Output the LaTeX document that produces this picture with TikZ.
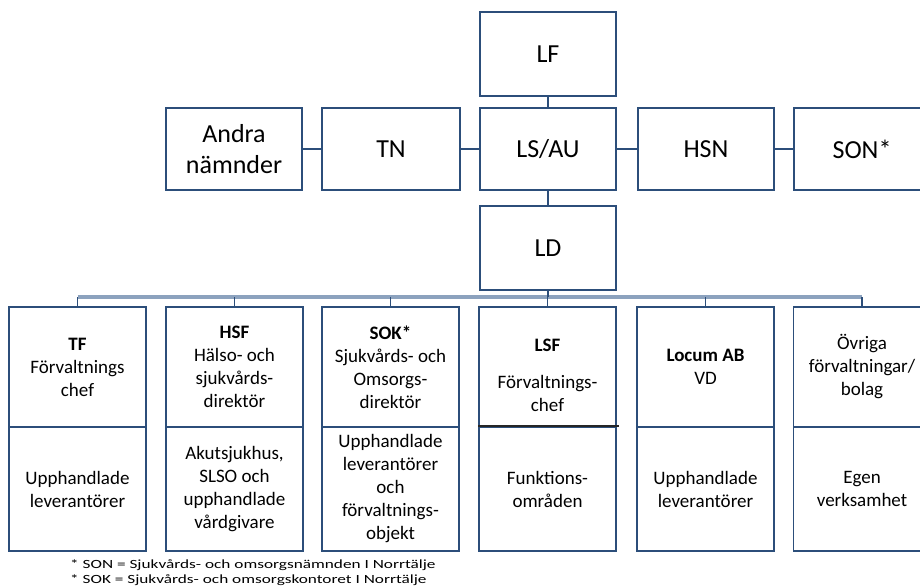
\documentclass[tikz,border=0pt]{standalone}
\usepackage{fontspec}
\usepackage{graphicx}
\setmainfont{Carlito}
\definecolor{navy}{RGB}{44,78,122}
\definecolor{busc}{RGB}{140,162,190}
\begin{document}
\begin{tikzpicture}[x=1pt,y=-1pt,
  topbox/.style={draw=navy,line width=1.6pt,minimum width=136pt,minimum height=82pt,inner sep=0pt,align=center,
    font=\fontsize{26}{31}\selectfont},
  ubox/.style={draw=navy,line width=1.6pt,minimum width=137pt,minimum height=120pt,inner sep=0pt,align=center,
    font=\fontsize{19}{23}\selectfont},
  lbox/.style={draw=navy,line width=1.6pt,minimum width=137pt,minimum height=124pt,inner sep=0pt,align=center,
    font=\fontsize{19}{23}\selectfont},
  conn/.style={draw=navy,line width=1.8pt},
  busline/.style={draw=busc,line width=3.5pt},
  stub/.style={draw=navy,line width=1.8pt},
  fnote/.style={anchor=west,inner sep=0pt,font=\fontsize{12.5}{12}\selectfont}
]
\useasboundingbox (0,0) rectangle (920,588);
\fill[white] (0,0) rectangle (920,588);

% top part
\node[topbox,minimum height=84pt] (lf) at (548,54) {LF};
\node[topbox] (ls) at (548,149) {LS/AU};
\node[topbox] (andra) at (234,149) {Andra\\nämnder};
\node[topbox,minimum width=138pt] (tn) at (391,149) {TN};
\node[topbox] (hsn) at (706,149) {HSN};
\node[topbox] (son) at (862,149) {SON*};
\node[topbox,minimum height=84pt] (ld) at (548,248) {LD};

\draw[conn] (andra) -- (tn);
\draw[conn] (tn) -- (ls);
\draw[conn] (ls) -- (hsn);
\draw[conn] (hsn) -- (son);
\draw[conn] (lf) -- (ls);
\draw[conn] (ls) -- (ld);

% bottom boxes
\node[ubox] (tf) at (77.5,367) {\textbf{TF}\\Förvaltnings\\chef};
\node[lbox] (tfl) at (77.5,489) {Upphandlade\\leverantörer};
\node[ubox] (hsf) at (234.5,367) {\textbf{HSF}\\Hälso- och\\sjukvårds-\\direktör};
\node[lbox] (hsfl) at (234.5,489) {Akutsjukhus,\\SLSO och\\upphandlade\\vårdgivare};
\node[ubox] (sok) at (390.5,367) {\textbf{SOK*}\\Sjukvårds- och\\Omsorgs-\\direktör};
\node[lbox] (sokl) at (390.5,489) {Upphandlade\\leverantörer\\och\\förvaltnings-\\objekt};
\node[ubox] (lsf) at (547.5,367) {};
\node[font=\fontsize{19}{23}\selectfont,align=center,inner sep=0pt] (lsft) at (547.5,375) {\textbf{LSF}\\[14pt]Förvaltnings-\\chef};
\node[lbox] (lsfl) at (547.5,489) {Funktions-\\områden};
\draw[black!85,line width=1.6pt] (lsfl.north west) -- ([xshift=2pt]lsfl.north east);
\node[ubox] (loc) at (705.5,367) {\textbf{Locum AB}\\VD};
\node[lbox] (locl) at (705.5,489) {Upphandlade\\leverantörer};
\node[ubox] (ov) at (862,367) {Övriga\\förvaltningar/\\bolag};
\node[lbox] (ovl) at (862,489) {Egen\\verksamhet};

% bus
\coordinate (bus) at (0,297);
\draw[busline] (tf.north|-bus) -- (ov.north|-bus);
\foreach \n in {tf,hsf,sok,lsf,loc,ov}{
  \draw[stub] (\n.north|-bus) -- (\n.north);
}
\draw[stub] (ld) -- (ld.south|-bus);

% footnotes
\node[fnote] (fn1) at (70,565.5) {\scalebox{1.38}[1]{* SON = Sjukvårds- och omsorgsnämnden I Norrtälje}};
\node[fnote] (fn2) at (70,580) {\scalebox{1.38}[1]{* SOK = Sjukvårds- och omsorgskontoret I Norrtälje}};
\end{tikzpicture}
\end{document}
